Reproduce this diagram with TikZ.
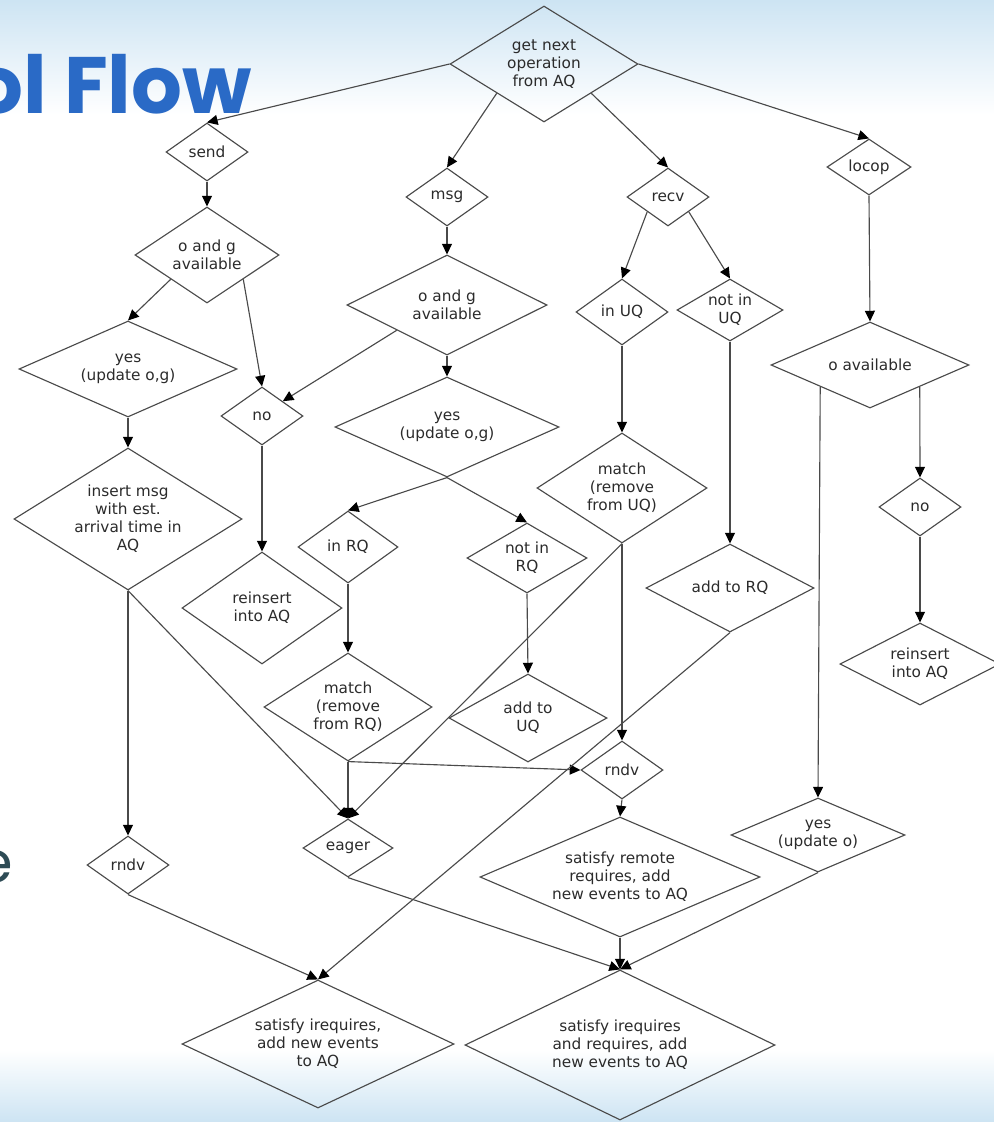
\documentclass[tikz,border=0pt]{standalone}
\usepackage{fontspec}
\setmainfont{DejaVu Sans}
\newfontfamily\titlefont{Poppins}
\usetikzlibrary{shapes.geometric,arrows.meta}
\definecolor{bgblue}{HTML}{CDE4F3}
\definecolor{titleblue}{HTML}{2A6AC6}
\definecolor{darkslate}{HTML}{2E4B55}
\definecolor{linegray}{HTML}{4A4A4A}
\definecolor{txtgray}{HTML}{2B2B2B}
\tikzset{
  fc/.style={shape=diamond, draw=linegray, line width=0.85pt, inner sep=0pt,
    align=center, text=txtgray, font=\fontsize{11.5}{13.5}\selectfont},
  dia/.code 2 args={\pgfmathsetmacro\diaasp{#1/#2}%
    \edef\diatmp{\noexpand\tikzset{aspect=\diaasp}}\diatmp
    \tikzset{minimum width=#1*1.5pt, minimum height=#2*1.5pt}},
  edge/.style={draw=linegray, line width=0.85pt,
    -{Triangle[length=8pt,width=7.5pt,color=black,fill=black]}}
}
\begin{document}
\begin{tikzpicture}[x=0.75pt,y=-0.75pt]
\useasboundingbox (0,0) rectangle (994,1122);
\clip (0,0) rectangle (994,1122);
\shade[top color=bgblue, bottom color=white] (0,0) rectangle (994,115);
\shade[top color=white, bottom color=bgblue] (0,1050) rectangle (994,1122);

\node[anchor=base east, text=titleblue, font=\titlefont\bfseries\fontsize{60}{62}\selectfont, inner sep=0pt] (title) at (252,113) {ol Flow};
\node[anchor=base east, text=darkslate, font=\titlefont\fontsize{43}{45}\selectfont, inner sep=0pt] (frag) at (13,882) {e};

% nodes
\node[fc,dia={94}{58}] (getnext) at (544,64) {get next\\operation\\from AQ};
\node[fc,dia={41}{29}] (send) at (207,152) {send};
\node[fc,dia={72}{48}] (oandgA) at (207,255) {o and g\\available};
\node[fc,dia={41}{29}] (msg) at (447,197) {msg};
\node[fc,dia={100}{50}] (oandgB) at (447,305) {o and g\\available};
\node[fc,dia={41}{29}] (recv) at (668,197) {recv};
\node[fc,dia={42}{28}] (locop) at (869,167) {locop};
\node[fc,dia={46}{33}] (inUQ) at (622,312) {in UQ};
\node[fc,dia={53}{31}] (notinUQ) at (730,310) {not in\\UQ};
\node[fc,dia={99}{43}] (oavail) at (870,365) {o available};
\node[fc,dia={109}{48}] (yesA) at (128,369) {yes\\(update o,g)};
\node[fc,dia={41}{29}] (noA) at (262,416) {no};
\node[fc,dia={112}{50}] (yesB) at (447,427) {yes\\(update o,g)};
\node[fc,dia={114}{71}] (insert) at (128,519) {insert msg\\with est.\\arrival time in\\AQ};
\node[fc,dia={50}{36}] (inRQ) at (348,547) {in RQ};
\node[fc,dia={60}{35}] (notinRQ) at (527,558) {not in\\RQ};
\node[fc,dia={85}{55}] (matchUQ) at (622,488) {match\\(remove\\from UQ)};
\node[fc,dia={80}{56}] (reinsA) at (262,608) {reinsert\\into AQ};
\node[fc,dia={84}{44}] (addRQ) at (730,588) {add to RQ};
\node[fc,dia={41}{29}] (noB) at (920,507) {no};
\node[fc,dia={80}{41}] (reinsB) at (920,664) {reinsert\\into AQ};
\node[fc,dia={84}{54}] (matchRQ) at (348,707) {match\\(remove\\from RQ)};
\node[fc,dia={79}{44}] (addUQ) at (528,718) {add to\\UQ};
\node[fc,dia={41}{29}] (rndvB) at (622,770) {rndv};
\node[fc,dia={45}{29}] (eager) at (348,848) {eager};
\node[fc,dia={41}{29}] (rndvA) at (128,865) {rndv};
\node[fc,dia={140}{60}] (satRem) at (620,877) {satisfy remote\\requires, add\\new events to AQ};
\node[fc,dia={87}{37}] (yesO) at (818,835) {yes\\(update o)};
\node[fc,dia={136}{64}] (satI) at (318,1044) {satisfy irequires,\\add new events\\to AQ};
\node[fc,dia={155}{75}] (satIR) at (620,1045) {satisfy irequires\\and requires, add\\new events to AQ};

% edges
\draw[edge] (getnext.west) -- (send.north);
\draw[edge] (getnext.south west) -- (msg.north);
\draw[edge] (getnext.south east) -- (recv.north);
\draw[edge] (getnext.east) -- (locop.north);
\draw[edge] (send.south) -- (oandgA.north);
\draw[edge] (oandgA.south west) -- (yesA.north);
\draw[edge] (oandgA.south east) -- (noA.north);
\draw[edge] (msg.south) -- (oandgB.north);
\draw[edge] (oandgB.south west) -- (noA.north east);
\draw[edge] (oandgB.south) -- (yesB.north);
\draw[edge] (recv.south west) -- (inUQ.north);
\draw[edge] (recv.south east) -- (notinUQ.north);
\draw[edge] (locop.south) -- (oavail.north);
\draw[edge] (yesA.south) -- (insert.north);
\draw[edge] (noA.south) -- (reinsA.north);
\draw[edge] (yesB.south) -- (inRQ.north);
\draw[edge] (yesB.south) -- (notinRQ.north);
\draw[edge] (inUQ.south) -- (matchUQ.north);
\draw[edge] (notinUQ.south) -- (addRQ.north);
\draw[edge] (oavail.south east) -- (noB.north);
\draw[edge] (oavail.south west) -- (yesO.north);
\draw[edge] (inRQ.south) -- (matchRQ.north);
\draw[edge] (notinRQ.south) -- (addUQ.north);
\draw[edge] (noB.south) -- (reinsB.north);
\draw[edge] (insert.south) -- (rndvA.north);
\draw[edge] (insert.south) -- (eager.north);
\draw[edge] (matchUQ.south) -- (eager.north);
\draw[edge] (matchUQ.south) -- (rndvB.north);
\draw[edge] (matchRQ.south) -- (eager.north);
\draw[edge] (matchRQ.south) -- (rndvB.west);
\draw[edge] (addRQ.south) -- (satI.north);
\draw[edge] (rndvA.south) -- (satI.north);
\draw[edge] (eager.south) -- (satIR.north);
\draw[edge] (rndvB.south) -- (satRem.north);
\draw[edge] (satRem.south) -- (satIR.north);
\draw[edge] (yesO.south) -- (satIR.north);
\end{tikzpicture}
\end{document}
